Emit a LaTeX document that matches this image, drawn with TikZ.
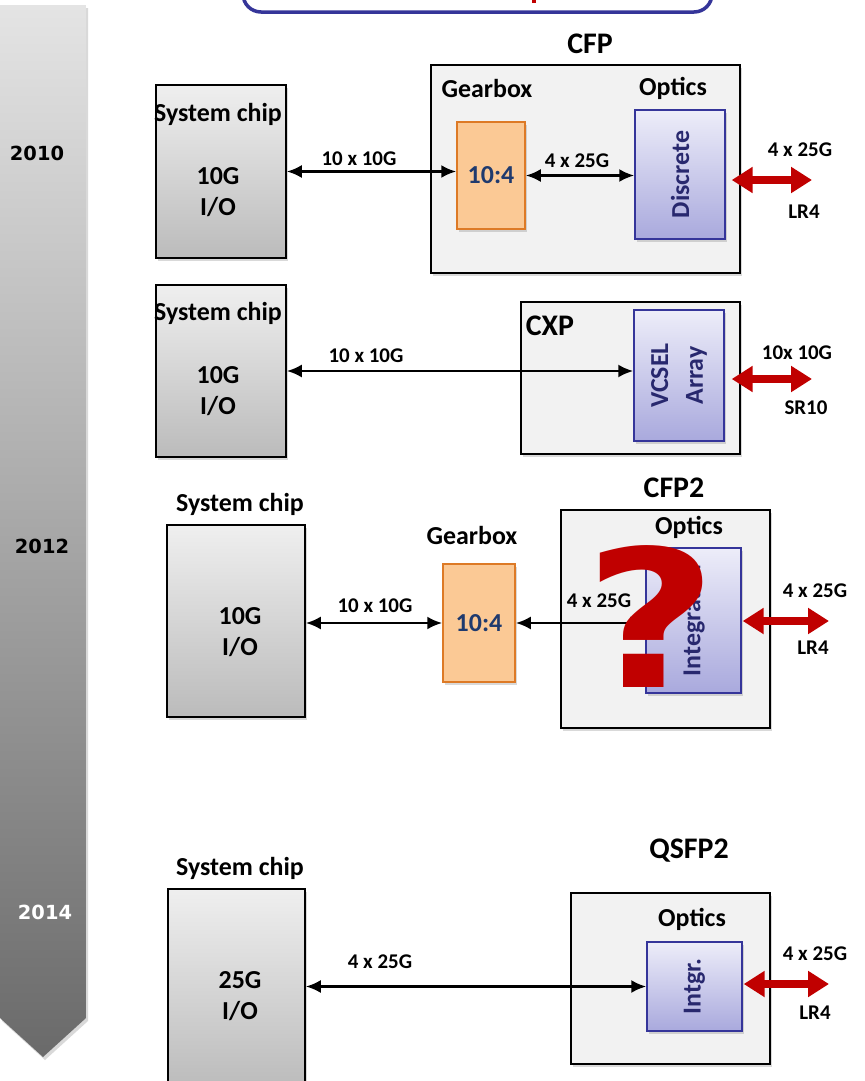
\documentclass[tikz,border=0pt]{standalone}
\usepackage{fontspec}
\setmainfont{Carlito}
\newfontfamily\jahrfont{DejaVu Sans}
\usepackage{tikz}
\usetikzlibrary{arrows.meta, shadows, positioning}
\definecolor{chipoben}{HTML}{EFEFEF}
\definecolor{chipunten}{HTML}{BBBBBB}
\definecolor{modul}{HTML}{F2F2F2}
\definecolor{optoben}{HTML}{EDEDF9}
\definecolor{optunten}{HTML}{A9A9DD}
\definecolor{optrand}{HTML}{35359A}
\definecolor{opttext}{HTML}{28286E}
\definecolor{gearfill}{HTML}{FBC995}
\definecolor{gearrand}{HTML}{DD7A26}
\definecolor{geartext}{HTML}{1F3A6E}
\definecolor{rotpf}{HTML}{C00000}
\definecolor{rahmen}{HTML}{353599}
\definecolor{zeitoben}{HTML}{E4E4E4}
\definecolor{zeitunten}{HTML}{6A6A6A}

\begin{document}
\begin{tikzpicture}[
        x=1bp, y=-1bp,
        every node/.style={font=\bfseries\fontsize{21}{24}\selectfont, inner sep=0pt},
        kopf/.style={font=\bfseries\fontsize{26}{30}\selectfont},
        titel/.style={font=\bfseries\fontsize{30}{34}\selectfont},
        io/.style={font=\bfseries\fontsize{26}{31}\selectfont, align=center},
        jahr/.style={font=\jahrfont\bfseries\fontsize{19.5}{22}\selectfont},
        schatten/.style={drop shadow={opacity=0.3, shadow xshift=2bp, shadow yshift=-3bp}},
        chip/.style={draw=black, line width=1.5bp, top color=chipoben,
                     bottom color=chipunten, schatten},
        modulbox/.style={draw=black, line width=1.6bp, fill=modul, schatten},
        gearbx/.style={draw=gearrand, line width=1.5bp, fill=gearfill, text=geartext,
                       font=\bfseries\fontsize{26}{30}\selectfont, schatten},
        optik/.style={draw=optrand, line width=1.4bp, top color=optoben,
                      bottom color=optunten, schatten},
        optlbl/.style={rotate=90, text=opttext, align=center,
                       font=\bfseries\fontsize{26}{35}\selectfont},
        pfeil/.style={{Latex[length=15bp,width=13bp]}-{Latex[length=15bp,width=13bp]},
                      line width=2.6bp},
        rotpfeil/.style={{Triangle[length=21bp,width=25bp]}-{Triangle[length=21bp,width=25bp]},
                         line width=7.5bp, draw=rotpf},
      ]
      \useasboundingbox (0,0) rectangle (865,1081);

      % Zeitachse
      \path[top color=zeitoben, bottom color=zeitunten, schatten]
        (0,5) -- (86,5) -- (86,1018) -- (43,1057) -- (0,1018) -- cycle;
      \node[jahr] (j2010) at (37,153) {2010};
      \node[jahr] (j2012) at (42,546) {2012};
      \node[jahr, text=white] (j2014) at (45,912) {2014};

      % Rahmen oben
      \draw[rahmen, line width=3.5bp, fill=white, rounded corners=18bp]
        (243,-40) rectangle (712,12);
      \fill[rotpf] (532,0) rectangle (536,3);

      % CFP
      \node[titel] (tcfp) at (590,44) {CFP};
      \node[chip, minimum width=130bp, minimum height=173bp] (chipA) at (221,171.5) {};
      \node[kopf] (scA) at (218,114) {System chip};
      \node[io] (ioA) at (218,192) {10G\\I/O};
      \node[modulbox, minimum width=309bp, minimum height=208bp] (cfp) at (585.5,169) {};
      \node[kopf] (gbA) at (487,89) {Gearbox};
      \node[kopf] (opA) at (673,88) {Optics};
      \node[gearbx, minimum width=68bp, minimum height=107bp] (gearA) at (491,175.5) {10:4};
      \node[optik, minimum width=90bp, minimum height=129bp] (discA) at (680,174.5) {};
      \node[optlbl] (discAt) at (discA.center) {Discrete};
      \draw[pfeil] (chipA.east) -- (chipA.east -| gearA.west);
      \node (lA1) at (359,159) {10 x 10G};
      \draw[pfeil] (gearA.east) -- (gearA.east -| discA.west);
      \node (lA2) at (577,161) {4 x 25G};
      \coordinate (rA) at (812,180);
      \draw[rotpfeil, shorten <=6bp] (discA.east |- rA) -- (rA);
      \node (lA3) at (800,150) {4 x 25G};
      \node (lA4) at (804,212) {LR4};

      % CXP
      \node[chip, minimum width=130bp, minimum height=172bp] (chipB) at (221,371) {};
      \node[kopf] (scB) at (218,313) {System chip};
      \node[io] (ioB) at (218,391) {10G\\I/O};
      \node[modulbox, minimum width=219bp, minimum height=152bp] (cxp) at (630.5,378) {};
      \node[titel] (tcxp) at (550,326) {CXP};
      \node[optik, minimum width=90bp, minimum height=131bp] (vcsel) at (679,375.5) {};
      \node[optlbl] (vcselt) at (vcsel.center) {VCSEL\\Array};
      \draw[pfeil] (chipB.east) -- (chipB.east -| vcsel.west);
      \node (lB1) at (366,356) {10 x 10G};
      \coordinate (rB) at (812,379);
      \draw[rotpfeil, shorten <=7bp] (vcsel.east |- rB) -- (rB);
      \node (lB2) at (797,353) {10x 10G};
      \node (lB3) at (806,408) {SR10};

      % CFP2
      \node[titel] (tcfp2) at (674,488) {CFP2};
      \node[kopf] (scC) at (240,504) {System chip};
      \node[chip, minimum width=138bp, minimum height=192bp] (chipC) at (236,621) {};
      \node[io] (ioC) at (240,632) {10G\\I/O};
      \node[kopf] (gbC) at (472,535) {Gearbox};
      \node[gearbx, minimum width=72bp, minimum height=118bp] (gearC) at (479,623) {10:4};
      \draw[pfeil] (gearC.west -| chipC.east) -- (gearC.west);
      \node (lC1) at (375,606) {10 x 10G};
      \node[modulbox, minimum width=209bp, minimum height=218bp] (cfp2) at (665.5,619) {};
      \node[kopf] (opC) at (689,527) {Optics};
      \node[optik, minimum width=95bp, minimum height=145bp] (integ) at (693.5,620.5) {};
      \node[optlbl] (integt) at (integ.center) {Integrated};
      \draw[pfeil] (gearC.east) -- (gearC.east -| integ.west);
      \node (lC2) at (599,601) {4 x 25G};
      \coordinate (rC) at (829,621);
      \draw[rotpfeil, shorten <=1bp] (integ.east |- rC) -- (rC);
      \node (lC3) at (815,591) {4 x 25G};
      \node (lC4) at (813,648) {LR4};
      \node[text=rotpf, font=\jahrfont\bfseries\fontsize{192}{192}\selectfont]
        (frage) at (651,617) {\scalebox{1.2}[1]{?}};

      % QSFP2
      \node[titel] (tqsfp) at (689,851) {QSFP2};
      \node[kopf] (scD) at (240,868) {System chip};
      \node[chip, minimum width=137bp, minimum height=200bp] (chipD) at (236.5,989) {};
      \node[io] (ioD) at (240,996) {25G\\I/O};
      \node[modulbox, minimum width=199bp, minimum height=171bp] (qsfp) at (670.5,978.5) {};
      \node[kopf] (opD) at (692,919) {Optics};
      \node[optik, minimum width=95bp, minimum height=89bp] (intgr) at (694.5,986.5) {};
      \node[optlbl] (intgrt) at (intgr.center) {Intgr.};
      \draw[pfeil] (intgr.west -| chipD.east) -- (intgr.west);
      \node (lD1) at (380,962) {4 x 25G};
      \coordinate (rD) at (829,984);
      \draw[rotpfeil, shorten <=1bp] (intgr.east |- rD) -- (rD);
      \node (lD2) at (815,954) {4 x 25G};
      \node (lD3) at (815,1013) {LR4};
    \end{tikzpicture}
\end{document}
